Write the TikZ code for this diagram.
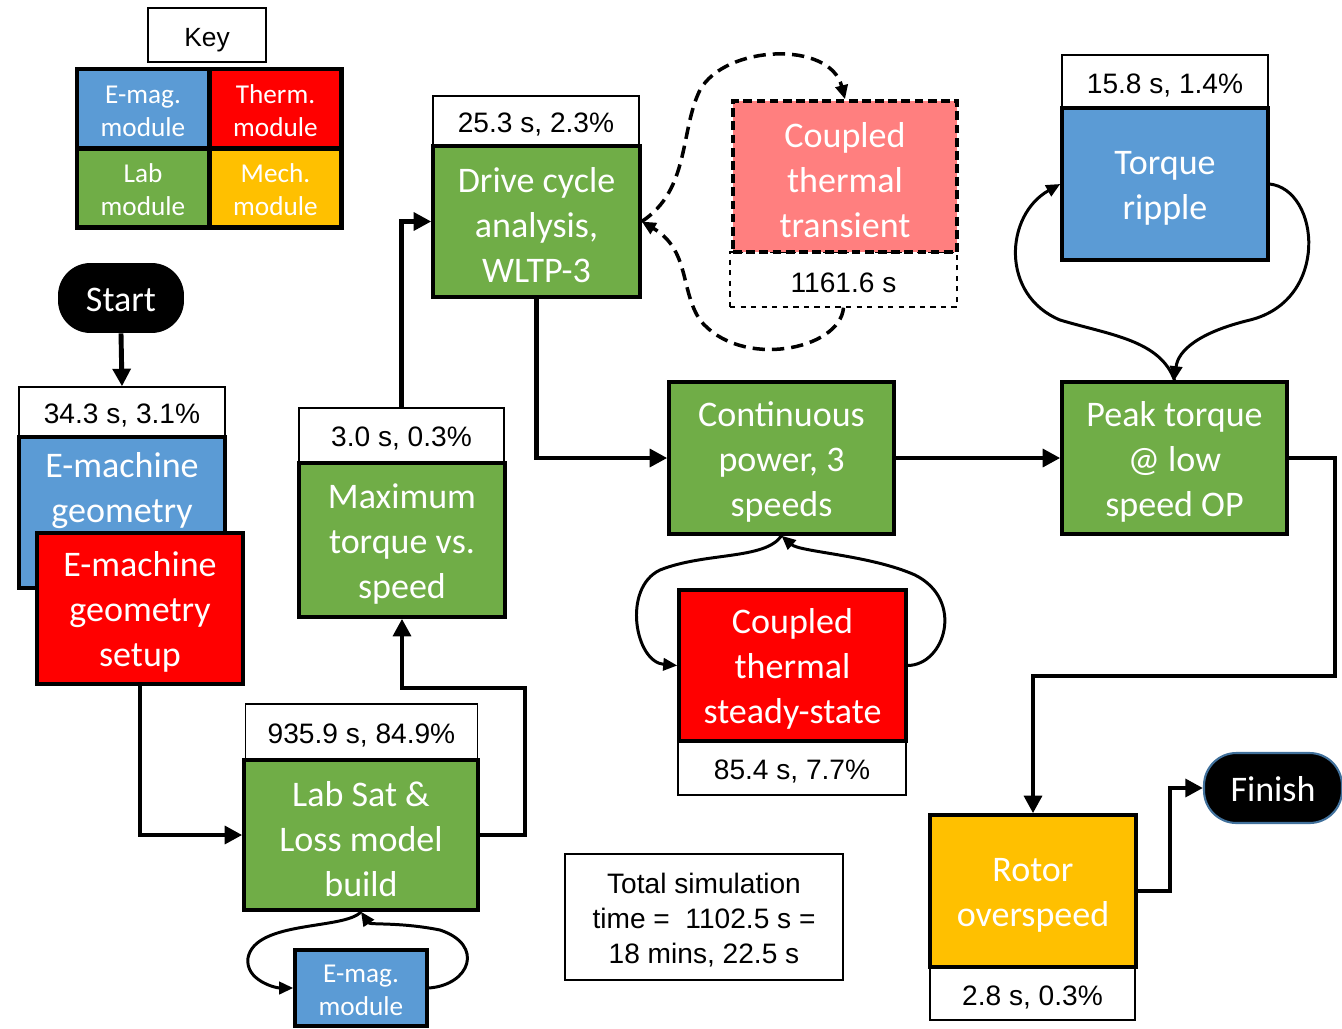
\documentclass[tikz,border=0pt]{standalone}
\usepackage{fontspec}
\setmainfont{Carlito}
\newfontfamily\arialfont{Liberation Sans}
\usetikzlibrary{arrows.meta}
\definecolor{emagblue}{HTML}{5B9BD5}
\definecolor{thermred}{HTML}{FF0000}
\definecolor{labgreen}{HTML}{70AD47}
\definecolor{mechyellow}{HTML}{FFC000}
\definecolor{transred}{HTML}{FF7F7F}
\definecolor{finishedge}{HTML}{41719C}
\begin{document}
\begin{tikzpicture}[x=0.02cm, y=-0.02cm,
    module/.style={draw=black, line width=2pt, text=white, align=flush center, inner sep=0pt, text width=4cm,
      font=\fontsize{20.5}{25.6}\selectfont, minimum width=4.12cm, minimum height=3.04cm,
      execute at begin node={\rule{0pt}{18.5pt}}},
    timebox/.style={draw=black, line width=0.8pt, fill=white, align=flush center, inner sep=0pt, text width=4cm,
      font=\arialfont\fontsize{16}{19.9}\selectfont, minimum width=4.12cm, minimum height=1.04cm,
      execute at begin node={\rule{0pt}{15.5pt}}},
    keybox/.style={draw=black, line width=2.5pt, text=white, align=flush center, inner sep=0pt, text width=2.4cm,
      font=\fontsize{15.5}{18.8}\selectfont, minimum width=2.64cm, minimum height=1.58cm,
      execute at begin node={\rule{0pt}{13pt}}},
    terminal/.style={fill=black, text=white, rounded corners=0.65cm, inner sep=0pt,
      font=\fontsize{20.5}{25.6}\selectfont, minimum width=2.52cm, minimum height=1.4cm,
      execute at begin node={\rule{0pt}{16pt}}},
    flow/.style={line width=2.8pt, -{Triangle[length=10pt,width=10pt]}},
    loopline/.style={line width=1.7pt, -{Triangle[length=8pt,width=7pt]}},
    dashloop/.style={line width=2pt, dash pattern=on 7pt off 4pt, -{Triangle[length=8pt,width=7pt]}}]
  \useasboundingbox (0,0) rectangle (1342,1028);

  \node[draw=black, line width=0.8pt, inner sep=0pt, minimum width=2.36cm, minimum height=1.08cm,
    text height=13pt, text depth=0pt, font=\arialfont\fontsize{15}{18}\selectfont] (key) at (207,35) {Key};
  \begin{scope}[every node/.style={keybox}]
    \node[fill=emagblue] (keyemag) at (143,108.5) {E-mag.\\module};
    \node[fill=thermred] (keytherm) at (275.5,108.5) {Therm.\\module};
    \node[fill=labgreen] (keylab) at (143,188) {Lab\\module};
    \node[fill=mechyellow] (keymech) at (275.5,188) {Mech.\\module};
  \end{scope}

  \node[terminal] (start) at (121,298) {Start};
  \node[terminal, draw=finishedge, line width=1.2pt, minimum width=2.76cm] (finish) at (1273,788) {Finish};

  \node[timebox, minimum height=1.0cm] (emachtime) at (122,412) {34.3 s, 3.1\%};
  \node[module, fill=emagblue, minimum height=3.02cm] (emach) at (122,512.5) {E-machine\\geometry\\\strut};
  \node[module, fill=thermred, minimum height=3.02cm] (setup) at (140,608.5) {E-machine\\geometry\\setup};

  \node[timebox, minimum width=4.64cm, minimum height=1.12cm] (labtime) at (361.5,732) {935.9 s, 84.9\%};
  \node[module, fill=labgreen, minimum width=4.68cm, minimum height=3.0cm] (labsat) at (361,835) {Lab Sat \&\\Loss model\\build};
  \node[keybox, fill=emagblue, line width=2pt, minimum height=1.52cm] (emag) at (361,988) {E-mag.\\module};

  \node[timebox, minimum width=4.1cm, minimum height=1.08cm] (maxtime) at (401.5,435) {3.0 s, 0.3\%};
  \node[module, fill=labgreen, minimum height=3.08cm] (maxtorque) at (402,540) {Maximum\\torque vs.\\speed};

  \node[timebox, minimum height=1.0cm] (drivetime) at (536,121) {25.3 s, 2.3\%};
  \node[module, fill=labgreen, minimum width=4.14cm, minimum height=3.02cm] (drive) at (536.5,221.5) {Drive cycle\\analysis,\\WLTP-3};

  \node[timebox, dashed, minimum width=4.54cm, minimum height=1.1cm] (transtime) at (843.5,279.5) {1161.6 s};
  \node[module, fill=transred, dash pattern=on 5pt off 2.5pt, minimum width=4.48cm, minimum height=3.02cm] (trans) at (845,176.5) {Coupled\\thermal\\transient};

  \node[module, fill=labgreen, minimum width=4.5cm] (cont) at (781.5,458) {Continuous\\power, 3\\speeds};
  \node[module, fill=labgreen, minimum width=4.5cm] (peak) at (1174.5,458) {Peak torque\\@ low\\speed OP};

  \node[timebox, minimum height=1.06cm] (rippletime) at (1165,81.5) {15.8 s, 1.4\%};
  \node[module, fill=emagblue] (ripple) at (1165,184) {Torque\\ripple};

  \node[timebox, minimum width=4.56cm, minimum height=1.08cm] (steadytime) at (792,768) {85.4 s, 7.7\%};
  \node[module, fill=thermred, minimum width=4.54cm, minimum height=3.02cm] (steady) at (792.5,665.5) {Coupled\\thermal\\steady-state};

  \node[timebox, minimum width=4.1cm, minimum height=1.06cm] (rotortime) at (1032.5,993.5) {2.8 s, 0.3\%};
  \node[module, fill=mechyellow] (rotor) at (1033,891) {Rotor\\overspeed};

  \node[timebox, line width=1pt, text width=5.3cm, minimum width=5.56cm, minimum height=2.52cm] (total) at (704,917)
    {Total simulation\\time =\ \ 1102.5 s =\\18 mins, 22.5 s};

  \coordinate (labturn) at (525,688);
  \coordinate (peakturn) at (1335,676);
  \coordinate (rotorturn) at (1170,788);

  \draw[flow] (start.south) -- (emachtime.north);
  \draw[flow] (setup.south) |- (labsat.west);
  \draw[flow] (labsat.east) -| (labturn) -| (maxtorque.south);
  \draw[flow] (maxtime.north) |- (drive.west);
  \draw[flow] (drive.south) |- (cont.west);
  \draw[flow] (cont.east) -- (peak.west);
  \draw[flow] (peak.east) -| (peakturn) -| (rotor.north);
  \draw[flow] (rotor.east) -| (rotorturn) -- (finish.west);

  \draw[loopline] (labsat.south) .. controls (345,930) and (255,920) .. (248,958) .. controls (245,980) and (275,988) .. (emag.west);
  \draw[loopline] (emag.east) .. controls (470,985) and (485,945) .. (440,930) .. controls (400,922) and (370,925) .. (labsat.south);
  \draw[loopline] (cont.south) .. controls (765,560) and (705,552) .. (660,570) .. controls (622,588) and (635,662) .. (steady.west);
  \draw[loopline] (steady.east) .. controls (945,665) and (965,600) .. (915,575) .. controls (870,555) and (800,552) .. (cont.south);
  \draw[loopline] (peak.north) .. controls (1160,340) and (1110,335) .. (1060,320) .. controls (1000,295) and (1005,215) .. (ripple.west);
  \draw[loopline] (ripple.east) .. controls (1320,190) and (1330,300) .. (1250,320) .. controls (1200,332) and (1178,350) .. (peak.north);
  \draw[dashloop] (drive.east) .. controls (690,190) and (680,130) .. (700,90) .. controls (725,45) and (830,40) .. (trans.north);
  \draw[dashloop] (transtime.south) .. controls (840,350) and (740,370) .. (700,320) .. controls (680,290) and (690,250) .. (drive.east);
\end{tikzpicture}
\end{document}
